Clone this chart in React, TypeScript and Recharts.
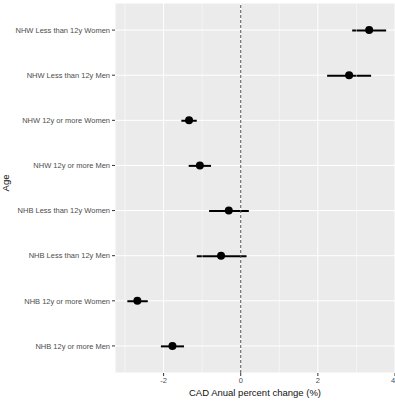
import { ComposedChart, Bar, Line, XAxis, YAxis, CartesianGrid, ReferenceLine } from 'recharts'

const groups = [
  'NHW Less than 12y Women',
  'NHW Less than 12y Men',
  'NHW 12y or more Women',
  'NHW 12y or more Men',
  'NHB Less than 12y Women',
  'NHB Less than 12y Men',
  'NHB 12y or more Women',
  'NHB 12y or more Men',
]
const estimate = [3.33, 2.81, -1.34, -1.06, -0.31, -0.51, -2.68, -1.77]
const lower = [2.89, 2.24, -1.54, -1.35, -0.82, -1.14, -2.94, -2.07]
const upper = [3.77, 3.38, -1.14, -0.77, 0.21, 0.15, -2.41, -1.47]
const xTicks = [-2, 0, 2, 4]
const minorTicks = [-3, -1, 1, 3]

const data = groups.map((g, i) => ({ group: g, est: estimate[i], ci: [lower[i], upper[i]] }))

const font = 'Liberation Sans, Arial, sans-serif'
const tickStyle = { fontSize: 7.5, fill: '#4d4d4d', fontFamily: font }
const titleStyle = { fontSize: 9.5, fill: '#111', fontFamily: font }

// plain single-line tick so long group names don't wrap
const GroupTick = (props: any) => {
  const { x, y, payload } = props
  return (
    <text x={x} y={y} dy={2.7} textAnchor="end" fontSize={7.5} fill="#4d4d4d" fontFamily={font}>
      {payload.value}
    </text>
  )
}

export default function App() {
  return (
    <div style={{ position: 'absolute', left: 0, top: 0, background: '#fff' }}>
      <ComposedChart
        width={395}
        height={402}
        data={data}
        layout="vertical"
        margin={{ top: 3, right: 0, left: 0, bottom: 0 }}
      >
        <CartesianGrid fill="#EBEBEB" stroke="#fff" strokeWidth={1} />
        {minorTicks.map((t) => (
          <ReferenceLine key={t} x={t} stroke="#fff" strokeWidth={0.5} />
        ))}
        <XAxis
          type="number"
          domain={[-3.26, 4.0]}
          ticks={xTicks}
          allowDataOverflow
          height={29}
          axisLine={false}
          tickSize={3}
          tickLine={{ stroke: '#333' }}
          tick={tickStyle}
          label={{ value: 'CAD Anual percent change (%)', position: 'insideBottom', offset: 6, style: titleStyle }}
        />
        <YAxis
          type="category"
          dataKey="group"
          width={115}
          padding={{ top: 4.5, bottom: 4.5 }}
          axisLine={false}
          tickSize={3}
          tickLine={{ stroke: '#333' }}
          tick={<GroupTick />}
          interval={0}
          label={{ value: 'Age', angle: -90, position: 'insideLeft', offset: 6, dy: -5, style: { ...titleStyle, textAnchor: 'middle' } }}
        />
        <ReferenceLine x={0} stroke="#555" strokeDasharray="3 2" strokeWidth={1} />
        <Bar dataKey="ci" barSize={2} fill="#000" isAnimationActive={false} />
        <Line
          dataKey="est"
          stroke="none"
          dot={{ r: 4, fill: '#000', stroke: '#000', strokeWidth: 0 }}
          activeDot={false}
          isAnimationActive={false}
        />
      </ComposedChart>
    </div>
  )
}
